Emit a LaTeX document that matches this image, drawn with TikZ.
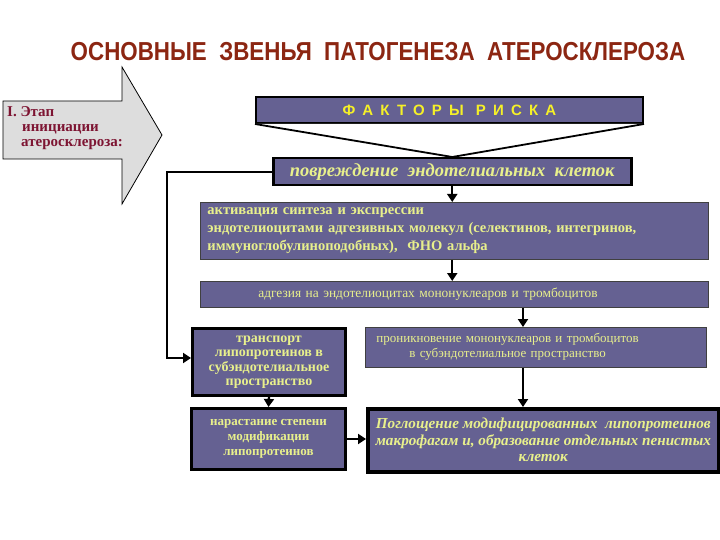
\documentclass[tikz,border=0pt]{standalone}
\usepackage{fontspec}
\setmainfont{Liberation Serif}
\newfontfamily\titlefont[FakeStretch=0.86]{Liberation Sans}
\newfontfamily\riskfont[LetterSpace=48]{Liberation Sans}
\usetikzlibrary{positioning,arrows.meta}
\definecolor{boxfill}{RGB}{101,97,146}
\definecolor{boxtext}{RGB}{232,240,140}
\definecolor{risktext}{RGB}{245,240,40}
\definecolor{titlered}{RGB}{140,38,18}
\definecolor{stagetext}{RGB}{125,20,50}
\definecolor{stagefill}{RGB}{221,221,221}

\begin{document}
\begin{tikzpicture}[
    x=1pt, y=-1pt,
    riskbox/.style={
        draw=black, fill=boxfill, line width=2pt, anchor=north west,
        inner sep=0pt, text=risktext
      },
    keybox/.style={
        draw=black, fill=boxfill, line width=3pt, anchor=north west,
        inner sep=0pt, text=boxtext, align=center,
        font=\bfseries\fontsize{14}{14.5}\selectfont
      },
    stepbox/.style={
        draw=black!75, fill=boxfill, line width=0.8pt, anchor=north west,
        inner sep=0pt, text=boxtext, align=left,
        font=\bfseries\fontsize{13}{15}\selectfont
      },
    flow/.style={
        line width=2.4pt, -{Triangle[length=8pt,width=10pt]}
      },
  ]
  \useasboundingbox (0,0) rectangle (720,540);

  \node[text=titlered, font=\titlefont\bfseries\fontsize{26}{28}\selectfont]
    (title) at (378,52) {ОСНОВНЫЕ\ \ ЗВЕНЬЯ\ \ ПАТОГЕНЕЗА\ \ АТЕРОСКЛЕРОЗА};

  % stage arrow
  \path[draw=black, fill=stagefill, line width=0.8pt]
    (3,101) -- (122,101) -- (122,67) -- (162,135) -- (122,204)
    -- (122,159) -- (3,159) -- cycle;
  \node[anchor=north west, inner sep=0pt, align=left, text=stagetext,
    font=\bfseries\fontsize{15}{15}\selectfont]
    (stage) at (7,106) {I. Этап\\\hspace*{15pt}инициации\\\hspace*{14pt}атеросклероза:};

  \node[riskbox, minimum width=387pt, minimum height=26pt,
    font=\riskfont\bfseries\fontsize{15}{16}\selectfont]
    (risk) at (255,96) {ФАКТОРЫ\hspace{12pt}РИСКА\hspace{34pt}};
  \node[keybox, minimum width=358pt, minimum height=27pt, line width=2.5pt,
    font=\bfseries\itshape\fontsize{18.5}{20}\selectfont]
    (damage) at (272,157) {повреждение\ \ эндотелиальных\ \ клеток};

  \draw[line width=1.8pt, fill=white]
    (risk.south west) -- (damage.north) -- (risk.south east);

  \node[stepbox, minimum width=508pt, minimum height=57pt, text width=494pt,
    font=\bfseries\fontsize{14.5}{18}\selectfont]
    (activation) at (200,202) {активация синтеза и экспрессии\\
      эндотелиоцитами адгезивных молекул (селектинов, интегринов,\\
      иммуноглобулиноподобных),\ \ ФНО альфа};
  \node[stepbox, minimum width=508pt, minimum height=26pt, text width=494pt,
    font=\fontsize{13.4}{15}\selectfont]
    (adhesion) at (200,281) {\hspace*{51pt}адгезия на эндотелиоцитах мононуклеаров и тромбоцитов};
  \node[stepbox, minimum width=341pt, minimum height=40pt, text width=319pt,
    font=\fontsize{13}{15}\selectfont]
    (penetration) at (365,327) {\begin{tabular}{@{}c@{}}проникновение мононуклеаров и тромбоцитов\\
      в субэндотелиальное пространство\end{tabular}};

  \node[keybox, minimum width=153pt, minimum height=67pt]
    (transport) at (191,327) {транспорт\\липопротеинов в\\субэндотелиальное\\пространство};
  \node[keybox, minimum width=154pt, minimum height=61pt,
    font=\bfseries\fontsize{13}{15}\selectfont]
    (growth) at (190,407) {нарастание степени\\модификации\\липопротеинов};
  \node[keybox, minimum width=351pt, minimum height=63pt, line width=3.5pt,
    font=\bfseries\itshape\fontsize{15.2}{16.5}\selectfont]
    (uptake) at (366,407) {Поглощение модифицированных\ \ липопротеинов\\
      макрофагам и, образование отдельных пенистых\\клеток};

  \coordinate (drop) at (523,0);
  \draw[flow] (damage.west) -- ++(-105,0) |- ([yshift=4pt]transport.west);
  \draw[flow] (damage.south) -- (damage.south |- activation.north);
  \draw[flow] (activation.south -| damage.south) -- (adhesion.north -| damage.south);
  \draw[flow] (adhesion.south -| drop) -- (penetration.north -| drop);
  \draw[flow] (penetration.south -| drop) -- (uptake.north -| drop);
  \draw[flow] (transport.south) -- (growth.north);
  \draw[flow] (growth.east) -- (growth.east -| uptake.west);
\end{tikzpicture}
\end{document}
